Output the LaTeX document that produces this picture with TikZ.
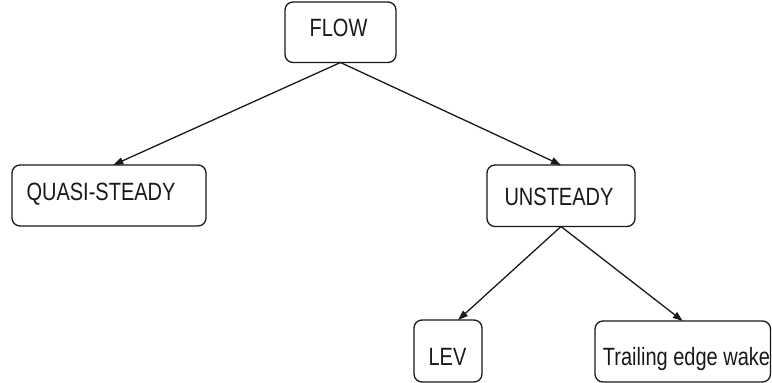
\documentclass[tikz,border=0pt]{standalone}
\usepackage{fontspec}
\setmainfont{Liberation Sans}[FakeStretch=0.8]
\usetikzlibrary{arrows.meta}
\begin{document}
\begin{tikzpicture}[x=1pt,y=-1pt,
  box/.style={draw=black!90, line width=1.3pt, rounded corners=8pt, inner sep=0pt, outer sep=0pt},
  txt/.style={anchor=base, inner sep=0pt, font=\fontsize{25}{30}\selectfont, text=black!90},
  conn/.style={draw=black!90, line width=1.3pt, -{Triangle[length=10pt,width=7pt]}}]
\useasboundingbox (0,0) rectangle (772,383);
\begin{scope}
\clip (0,0) rectangle (772,383);
\node[box, minimum width=111pt, minimum height=60.5pt] (flowbox) at (340.5,32.25) {};
\node[box, minimum width=194pt, minimum height=61pt] (quasibox) at (109,195.5) {};
\node[box, minimum width=148pt, minimum height=61.5pt] (unsbox) at (561,195.75) {};
\node[box, minimum width=68pt, minimum height=62pt] (levbox) at (448,351) {};
\node[box, minimum width=175.5pt, minimum height=61pt] (trbox) at (682.75,351.5) {};
\end{scope}
\node[txt] (flow) at (338.5,36) {FLOW};
\node[txt] (quasi) at (101,200) {QUASI-STEADY};
\node[txt] (unsteady) at (559,205) {UNSTEADY};
\node[txt] (lev) at (447.5,365) {LEV};
\node[txt] (trail) at (686.5,365) {Trailing edge wake};
\draw[conn] (flowbox.south) -- (quasibox.82.5);
\draw[conn] (flowbox.south) -- (unsbox.north);
\draw[conn] (unsbox.south) -- (levbox.72);
\draw[conn] (unsbox.south) -- (trbox.north);
\end{tikzpicture}
\end{document}
